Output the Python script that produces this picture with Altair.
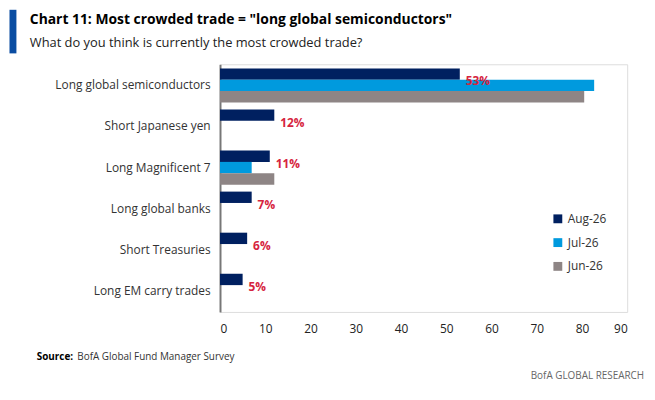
import pandas as pd
import altair as alt

trades = ["Long global semiconductors", "Short Japanese yen", "Long Magnificent 7",
          "Long global banks", "Short Treasuries", "Long EM carry trades"]
series = ["Aug-26", "Jul-26", "Jun-26"]
aug = [53, 12, 11, 7, 6, 5]
jul = [82.7, None, 7, None, None, None]
jun = [80.5, None, 12, None, None, None]
colors = ["#002060", "#009ADE", "#8E8585"]

rows = []
for i, t in enumerate(trades):
    for s, vals in zip(series, [aug, jul, jun]):
        rows.append({"trade": t, "month": s, "value": vals[i]})
df = pd.DataFrame(rows)
lab = pd.DataFrame({"trade": trades, "value": aug, "label": [f"{v}%" for v in aug]})

W, H = 411, 250
font = "Open Sans"

y_enc = alt.Y("trade:N", sort=trades, title=None,
              scale=alt.Scale(paddingInner=0.17, paddingOuter=0.1),
              axis=alt.Axis(labelFontSize=12, labelColor="#333333", labelFont=font,
                            ticks=False, labelPadding=10, domainColor="#777777",
                            domainWidth=2, labelLimit=250))
x_enc = alt.X("value:Q", title=None, scale=alt.Scale(domain=[0, 90], nice=False),
              axis=alt.Axis(values=list(range(0, 100, 10)), grid=False, domain=False,
                            ticks=False, labelFontSize=12, labelColor="#222222",
                            labelFont=font, labelPadding=12))

bars = alt.Chart(df).mark_bar().encode(
    x=x_enc, y=y_enc,
    yOffset=alt.YOffset("month:N", sort=series),
    color=alt.Color("month:N", sort=series,
                    scale=alt.Scale(domain=series, range=colors),
                    legend=alt.Legend(title=None, orient="none", legendX=335, legendY=150,
                                      symbolType="square", symbolSize=80,
                                      labelFontSize=12, labelFont=font, labelColor="#333333",
                                      rowPadding=12, symbolStrokeWidth=0)),
)

labels = alt.Chart(lab).mark_text(align="left", dx=6, dy=-4, fontSize=12,
                                  fontWeight="bold", color="#D6243E", font=font).encode(
    x="value:Q", y=alt.Y("trade:N", sort=trades), text="label:N")

def txt(s, x, y, **kw):
    return alt.Chart(pd.DataFrame({"t": [s]})).mark_text(
        align=kw.pop("align", "left"), baseline="middle", font=font, **kw
    ).encode(x=alt.value(x), y=alt.value(y), text="t:N")

ox, oy = 214, 55  # plot origin offset from page minus margin
title = txt('Chart 11: Most crowded trade = "long global semiconductors"', 30 - ox - 8, 18 - oy - 8,
            fontSize=14, fontWeight="bold", color="#000000")
sub = txt("What do you think is currently the most crowded trade?", 30 - ox - 8, 42 - oy - 8,
          fontSize=13, color="#222222")
src1 = txt("Source:", 37 - ox - 8, 359 - oy - 8, fontSize=10, fontWeight="bold", color="#000000")
src2 = txt("BofA Global Fund Manager Survey", 78 - ox - 8, 359 - oy - 8, fontSize=10, color="#333333")
brand = txt("BofA GLOBAL RESEARCH", 650 - ox - 8, 378 - oy - 8, fontSize=10, color="#666666",
            align="right")
stripe = alt.Chart(pd.DataFrame({"a": [0]})).mark_rule(color="#0A4DA2", strokeWidth=7).encode(
    x=alt.value(13 - ox - 8), y=alt.value(8 - oy - 8), y2=alt.value(52 - oy - 8))

chart = alt.layer(bars, labels, stripe, title, sub, src1, src2, brand).properties(
    width=W, height=H,
    autosize=alt.AutoSizeParams(type="none"),
    padding={"left": ox, "top": oy, "right": 20, "bottom": 80},
).configure_view(stroke=None).configure(background="white")

chart.save("out.html", embed_options={"renderer": "svg", "actions": False})
